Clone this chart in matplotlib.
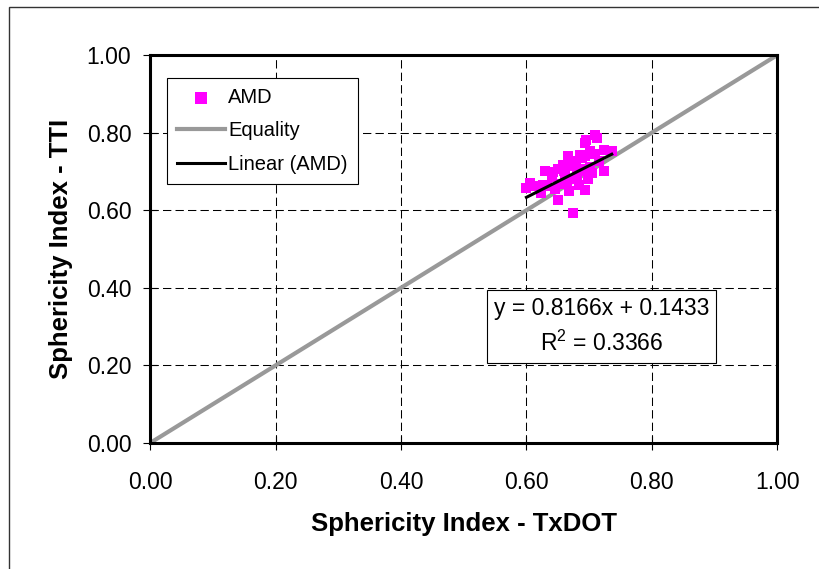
import matplotlib.pyplot as plt
from matplotlib.patches import Rectangle

plt.rcParams['font.family'] = ['Liberation Sans', 'DejaVu Sans']

# AMD sphericity index pairs (TxDOT, TTI)
txdot = [0.709, 0.695, 0.693, 0.712, 0.723, 0.736, 0.701, 0.685, 0.667, 0.715,
         0.723, 0.658, 0.629, 0.642, 0.605, 0.600, 0.627, 0.624, 0.651, 0.675,
         0.693, 0.680, 0.701, 0.640, 0.660, 0.672, 0.688, 0.705, 0.670, 0.655,
         0.645, 0.683, 0.662, 0.690, 0.676, 0.632, 0.698, 0.668, 0.650, 0.612,
         0.679, 0.694, 0.664, 0.686, 0.710]
tti = [0.794, 0.781, 0.773, 0.785, 0.756, 0.752, 0.752, 0.743, 0.739, 0.726,
       0.700, 0.717, 0.700, 0.698, 0.670, 0.657, 0.666, 0.644, 0.627, 0.593,
       0.653, 0.690, 0.712, 0.685, 0.700, 0.725, 0.735, 0.695, 0.680, 0.668,
       0.655, 0.665, 0.690, 0.705, 0.715, 0.662, 0.680, 0.650, 0.705, 0.662,
       0.728, 0.740, 0.672, 0.700, 0.745]
slope = 0.8166
intercept = 0.1433
r2 = 0.3366
equality = [0.0, 1.0]
ticks = [0.0, 0.2, 0.4, 0.6, 0.8, 1.0]

fig = plt.figure(figsize=(8.2, 5.69), dpi=100)
ax = fig.add_axes([0.183, 0.2214, 0.765, 0.6819])

ax.plot(equality, equality, color='#999999', lw=3, label='Equality', zorder=2)
ax.scatter(txdot, tti, marker='s', s=45, color='#ff00ff', label='AMD', zorder=3, linewidths=0)
xs = [min(txdot), max(txdot)]
ax.plot(xs, [slope * v + intercept for v in xs], color='black', lw=2.2,
        label='Linear (AMD)', zorder=4)

ax.set_xlim(0, 1)
ax.set_ylim(0, 1)
ax.set_xticks(ticks)
ax.set_yticks(ticks)
ax.set_xticklabels(['%.2f' % t for t in ticks])
ax.set_yticklabels(['%.2f' % t for t in ticks])
ax.tick_params(labelsize=16.5, direction='inout', length=10, width=0.8, color='black')
ax.tick_params(axis='x', pad=15)
ax.tick_params(axis='y', pad=8.5)
ax.grid(True, color='black', linestyle=(0, (8, 4)), lw=0.75)
for s in ax.spines.values():
    s.set_linewidth(2.2)

ax.set_xlabel('Sphericity Index - TxDOT', fontsize=18.5, fontweight='bold', labelpad=13)
ax.set_ylabel('Sphericity Index - TTI', fontsize=18.5, fontweight='bold', labelpad=10)

handles, labels = ax.get_legend_handles_labels()
order = [labels.index('AMD'), labels.index('Equality'), labels.index('Linear (AMD)')]
leg = ax.legend([handles[i] for i in order], [labels[i] for i in order],
                loc='upper left', bbox_to_anchor=(0.027, 0.94), fontsize=14.5,
                fancybox=False, edgecolor='black', framealpha=1, borderpad=0.5,
                handlelength=2.4, handletextpad=0.15, labelspacing=0.7,
                borderaxespad=0, markerscale=1.25)
leg.get_frame().set_linewidth(0.8)

ax.text(0.72, 0.30, 'y = %.4fx + %.4f\n$\\mathregular{R^2}$ = %.4f' % (slope, intercept, r2),
        fontsize=16.5, ha='center', va='center', linespacing=1.55,
        bbox=dict(boxstyle='square,pad=0.3', facecolor='white', edgecolor='black', lw=0.8),
        zorder=5)

fig.patches.append(Rectangle((9 / 820, -0.1), 1.2, 1 - 7 / 569 + 0.1, transform=fig.transFigure,
                             fill=False, edgecolor='#333333', lw=1))

fig.savefig('out.png', dpi=100)
